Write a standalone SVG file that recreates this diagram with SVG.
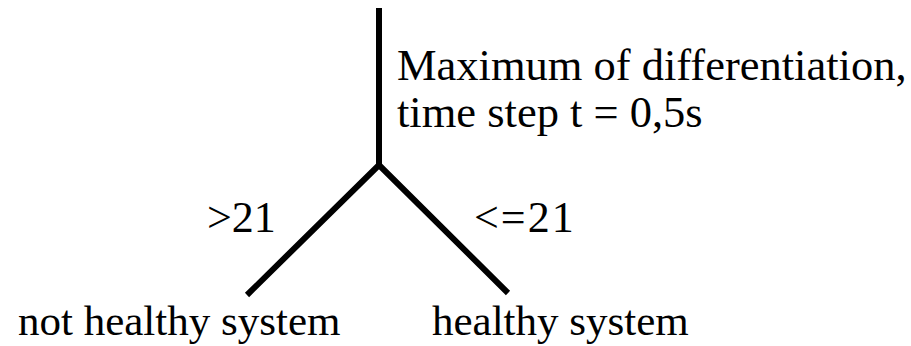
<svg xmlns="http://www.w3.org/2000/svg" width="911" height="346" viewBox="0 0 911 346">
<style>
text{font-family:"Liberation Serif","Times New Roman",serif;font-size:43px;fill:#000}
.big{font-size:44.5px}
.lbl{font-size:44px}
.c{stroke:#000;stroke-width:6;fill:none;stroke-linecap:butt;stroke-linejoin:miter}
</style>
<rect width="911" height="346" fill="#fff"/>
<g id="connectors">
<line class="c" x1="379" y1="8" x2="379" y2="165"/>
<polyline class="c" points="247,295 379,165 508,293"/>
</g>
<g id="root"><text class="big" x="397" y="80">Maximum of differentiation,</text><text class="big" x="397" y="127">time step t = 0,5s</text></g>
<g id="edge-gt"><text class="lbl" x="207" y="232">&gt;21</text></g>
<g id="edge-le"><text class="lbl" x="474" y="232" letter-spacing="2">&lt;=21</text></g>
<g id="not-healthy"><text x="18" y="335">not healthy system</text></g>
<g id="healthy"><text x="432" y="335">healthy system</text></g>
</svg>
